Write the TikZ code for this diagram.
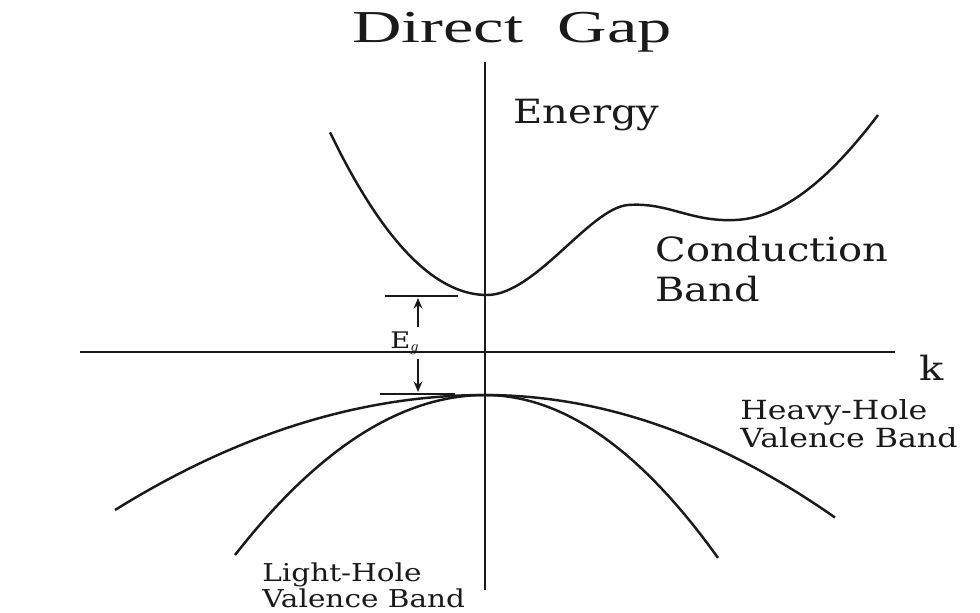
\documentclass[tikz,border=0pt]{standalone}
\usepackage{fontspec}
\setmainfont{DejaVu Serif}[FakeStretch=1.2]
\newfontfamily\titlefont{Liberation Serif}[FakeStretch=1.5]
\usetikzlibrary{arrows.meta}
\definecolor{InkDark}{HTML}{1A1A1A}

\begin{document}
\begin{tikzpicture}[x=0.02cm,y=-0.02cm,
    band/.style={InkDark,line width=1.4pt,line join=round},
    axis/.style={InkDark,line width=1.2pt},
    lbl/.style={text=InkDark,inner sep=0pt,align=left},
    gapar/.style={-{Stealth[length=6pt,width=5pt]},InkDark,line width=1pt}]
  \useasboundingbox (0,0) rectangle (980,612);
  % axes
  \coordinate (etop) at (485,62);  \coordinate (ebot) at (485,590);
  \coordinate (kleft) at (80,352); \coordinate (kright) at (895,352);
  \draw[axis] (etop) -- (ebot);
  \draw[axis] (kleft) -- (kright);
  \node[lbl,font=\titlefont\fontsize{26}{30}\selectfont] (title) at (512,32) {Direct\ \ Gap};
  \node[lbl,anchor=west,font=\fontsize{19}{23}\selectfont] (energy) at (513,115) {Energy};
  \node[lbl,font=\fontsize{19}{23}\selectfont] (k) at (932,368) {k};
  % conduction band
  \draw[band] plot[domain=330:487,samples=40] (\x,{295-66*((\x-487)/100)^2})
    .. controls (535,295) and (590,208) .. (628,205)
    .. controls (668,202) and (690,222) .. (735,220)
    .. controls (790,218) and (840,165) .. (878,115);
  \node[lbl,anchor=west,font=\fontsize{19}{23}\selectfont] (cb) at (655,269) {Conduction\\Band};
  % valence bands
  \draw[band] plot[domain=115:485,samples=40] (\x,{395+8.4*((\x-485)/100)^2})
    -- plot[domain=485:835,samples=40] (\x,{395+10*((\x-485)/100)^2});
  \draw[band] plot[domain=235:485,samples=40] (\x,{395+25.6*((\x-485)/100)^2})
    -- plot[domain=485:718,samples=40] (\x,{395+30*((\x-485)/100)^2});
  \node[lbl,anchor=west,font=\fontsize{15}{16}\selectfont] (hh) at (740,424) {Heavy-Hole\\Valence Band};
  \node[lbl,anchor=west,font=\fontsize{14}{13}\selectfont] (lh) at (262,585) {Light-Hole\\Valence Band};
  % gap marker
  \coordinate (gtopL) at (385,296); \coordinate (gtopR) at (458,296);
  \coordinate (gbotL) at (380,394); \coordinate (gbotR) at (455,394);
  \coordinate (gtopA) at (418,298); \coordinate (gbotA) at (418,392);
  \draw[axis] (gtopL) -- (gtopR);
  \draw[axis] (gbotL) -- (gbotR);
  \node[lbl,font=\fontsize{13}{15}\selectfont] (eg) at (405,343) {E$_g$};
  \draw[gapar] (eg.north -| gtopA) ++(0,-4) -- (gtopA);
  \draw[gapar] (eg.south -| gbotA) ++(0,4) -- (gbotA);
\end{tikzpicture}
\end{document}
